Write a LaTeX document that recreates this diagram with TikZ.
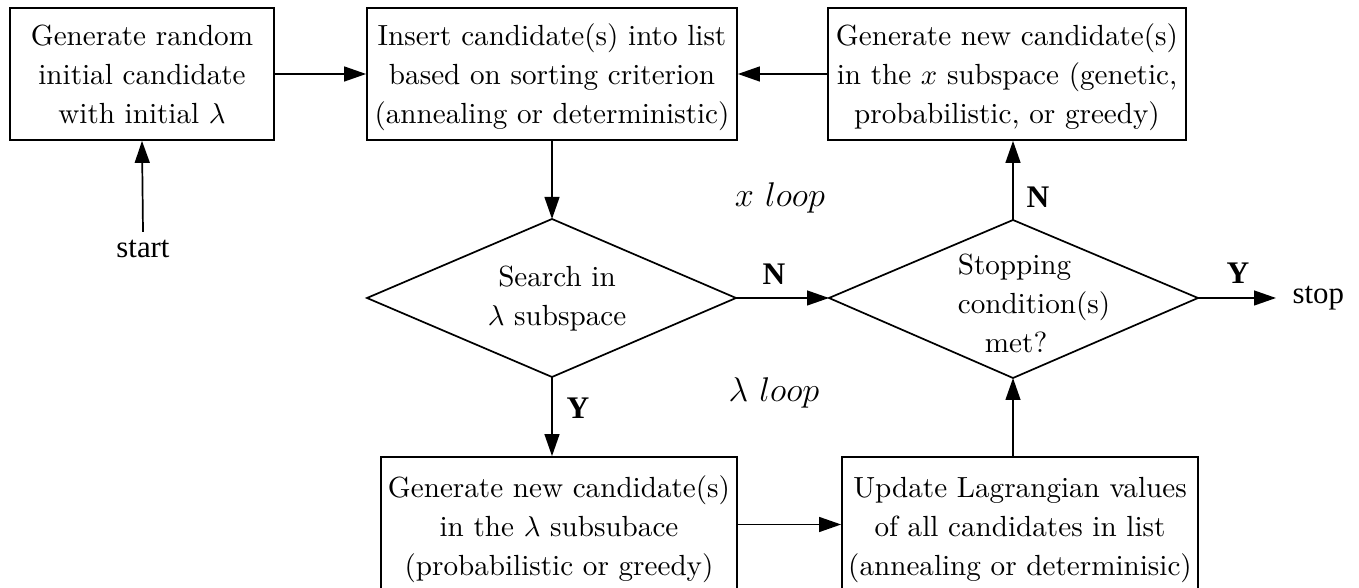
\documentclass[tikz,border=0pt]{standalone}
\usepackage{fontspec}
\newfontfamily\timesf{Liberation Serif}
\usetikzlibrary{arrows.meta}
\begin{document}
\begin{tikzpicture}[x=0.35pt,y=-0.35pt,
  box/.style={draw, line width=0.6pt, minimum width=#1, minimum height=46.2pt, inner sep=0pt, align=center, text height=35pt, text depth=0pt, font=\fontsize{10.2}{13.65}\selectfont},
  txt/.style={inner sep=0pt, align=center, font=\fontsize{10.2}{13.65}\selectfont},
  lab/.style={inner sep=0pt, font=\fontsize{11}{13}\selectfont\timesf\bfseries},
  loopl/.style={inner sep=0pt, font=\fontsize{12}{14}\selectfont},
  term/.style={inner sep=0pt, font=\fontsize{10.8}{13}\selectfont\timesf},
  arr/.style={-{Triangle[length=7.7pt,width=5.2pt]}, line width=0.6pt},
  edge/.style={line width=0.6pt}]
\useasboundingbox (0,0) rectangle (1359,588);
% boxes
\node[box=92.4pt] (b1) at (142,74) {Generate random\\initial candidate\\with initial $\lambda$};
\node[box=129.5pt] (b2) at (552,74) {Insert candidate(s) into list\\based on sorting criterion\\(annealing or deterministic)};
\node[box=125.3pt] (b3) at (1007,74) {Generate new candidate(s)\\in the $x$ subspace (genetic,\\probabilistic, or greedy)};
\node[box=124.6pt, minimum height=47.25pt, text height=36pt] (b4) at (559,524.5) {Generate new candidate(s)\\in the $\lambda$ subsubace\\(probabilistic or greedy)};
\node[box=124.6pt, minimum height=47.25pt, text height=36pt] (b5) at (1020,524.5) {Update Lagrangian values\\of all candidates in list\\(annealing or determinisic)};
% diamonds
\coordinate (d1n) at (552,219);
\coordinate (d1s) at (552,377);
\coordinate (d1w) at (367,298);
\coordinate (d1e) at (736,298);
\coordinate (d2n) at (1013,220);
\coordinate (d2s) at (1013,378);
\coordinate (d2w) at (829,298);
\coordinate (d2e) at (1198,298);
\draw[edge, line join=miter] (d1n) -- (d1e) -- (d1s) -- (d1w) -- cycle;
\draw[edge, line join=miter] (d2n) -- (d2e) -- (d2s) -- (d2w) -- cycle;
\node[txt] (d1t) at (557,299) {Search in\\$\lambda$ subspace};
\node[txt, align=left] (d2t) at (1034,303) {Stopping\\condition(s)\\\hspace*{9.5pt}met?};
% terminals
\node[term] (start) at (143,249) {start};
\node[term, anchor=west] (stop) at (1292,298) {stop};
\coordinate (startend) at (143,232);
\coordinate (stopend) at (1276,298);
% labels
\node[lab] (n1) at (774,274) {N};
\node[lab] (n2) at (1038,197) {N};
\node[lab] (y1) at (578,408) {Y};
\node[lab] (y2) at (1238,273) {Y};
\node[loopl] (xl) at (780,198) {$x\ loop$};
\node[loopl] (ll) at (774,393) {$\lambda\ loop$};
% connectors
\draw[arr] (startend) -- (b1.south);
\draw[arr] (b1.east) -- (b2.west);
\draw[arr] (b3.west) -- (b2.east);
\draw[arr] (b2.south) -- (d1n);
\draw[arr] (d1e) -- (d2w);
\draw[arr] (d2n) -- (d2n |- b3.south);
\draw[arr] (d2e) -- (stopend);
\draw[arr] (d1s) -- (d1s |- b4.north);
\draw[arr] (b4.east) -- (b5.west);
\draw[arr] (d2s |- b5.north) -- (d2s);
\end{tikzpicture}
\end{document}
